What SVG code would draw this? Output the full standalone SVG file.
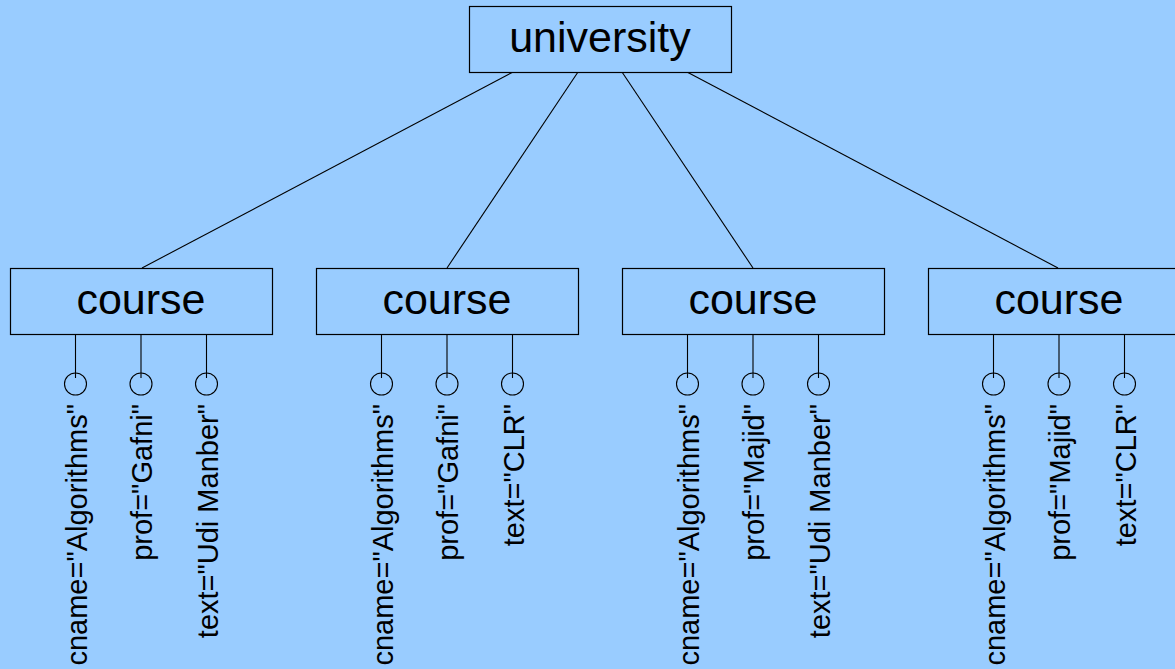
<svg xmlns="http://www.w3.org/2000/svg" width="1175" height="669" viewBox="0 0 1175 669">
  <style>
    .box { fill: #99ccff; stroke: #000; stroke-width: 1.2; }
    .edge { stroke: #000; stroke-width: 1.1; fill: none; }
    .attr { fill: none; stroke: #000; stroke-width: 1.1; }
    .title { font-family: "Liberation Sans", Arial, sans-serif; font-size: 43px; fill: #000; text-anchor: middle; }
    .label { font-family: "Liberation Sans", Arial, sans-serif; font-size: 29px; fill: #000; text-anchor: end; }
  </style>
  <rect x="0" y="0" width="1175" height="669" fill="#99ccff"/>

  <!-- tree edges -->
  <g id="connectors">
    <line class="edge" x1="513" y1="72" x2="142" y2="268"/>
    <line class="edge" x1="578" y1="72" x2="447" y2="268"/>
    <line class="edge" x1="622" y1="72" x2="753" y2="268"/>
    <line class="edge" x1="687" y1="72" x2="1058" y2="268"/>
  </g>

  <g id="university">
    <rect class="box" x="469.5" y="6.5" width="262" height="66"/>
    <text class="title" x="600" y="52">university</text>
  </g>

  <g id="course1" transform="translate(10,0)">
    <rect class="box" x="0.5" y="268.5" width="262" height="66"/>
    <text class="title" x="131" y="314">course</text>
    <path class="attr" d="M65.5 334v44M131 334v44M196.5 334v44"/>
    <circle class="attr" cx="65.5" cy="384" r="11"/>
    <circle class="attr" cx="131" cy="384" r="11"/>
    <circle class="attr" cx="196.5" cy="384" r="11"/>
    <text class="label" transform="translate(76.5,404) rotate(-90)">cname="Algorithms"</text>
    <text class="label" transform="translate(142,404) rotate(-90)">prof="Gafni"</text>
    <text class="label" transform="translate(207.5,404) rotate(-90)">text="Udi Manber"</text>
  </g>

  <g id="course2" transform="translate(316,0)">
    <rect class="box" x="0.5" y="268.5" width="262" height="66"/>
    <text class="title" x="131" y="314">course</text>
    <path class="attr" d="M65.5 334v44M131 334v44M196.5 334v44"/>
    <circle class="attr" cx="65.5" cy="384" r="11"/>
    <circle class="attr" cx="131" cy="384" r="11"/>
    <circle class="attr" cx="196.5" cy="384" r="11"/>
    <text class="label" transform="translate(76.5,404) rotate(-90)">cname="Algorithms"</text>
    <text class="label" transform="translate(142,404) rotate(-90)">prof="Gafni"</text>
    <text class="label" transform="translate(207.5,404) rotate(-90)">text="CLR"</text>
  </g>

  <g id="course3" transform="translate(622,0)">
    <rect class="box" x="0.5" y="268.5" width="262" height="66"/>
    <text class="title" x="131" y="314">course</text>
    <path class="attr" d="M65.5 334v44M131 334v44M196.5 334v44"/>
    <circle class="attr" cx="65.5" cy="384" r="11"/>
    <circle class="attr" cx="131" cy="384" r="11"/>
    <circle class="attr" cx="196.5" cy="384" r="11"/>
    <text class="label" transform="translate(76.5,404) rotate(-90)">cname="Algorithms"</text>
    <text class="label" transform="translate(142,404) rotate(-90)">prof="Majid"</text>
    <text class="label" transform="translate(207.5,404) rotate(-90)">text="Udi Manber"</text>
  </g>

  <g id="course4" transform="translate(928,0)">
    <rect class="box" x="0.5" y="268.5" width="262" height="66"/>
    <text class="title" x="131" y="314">course</text>
    <path class="attr" d="M65.5 334v44M131 334v44M196.5 334v44"/>
    <circle class="attr" cx="65.5" cy="384" r="11"/>
    <circle class="attr" cx="131" cy="384" r="11"/>
    <circle class="attr" cx="196.5" cy="384" r="11"/>
    <text class="label" transform="translate(76.5,404) rotate(-90)">cname="Algorithms"</text>
    <text class="label" transform="translate(142,404) rotate(-90)">prof="Majid"</text>
    <text class="label" transform="translate(207.5,404) rotate(-90)">text="CLR"</text>
  </g>
</svg>
